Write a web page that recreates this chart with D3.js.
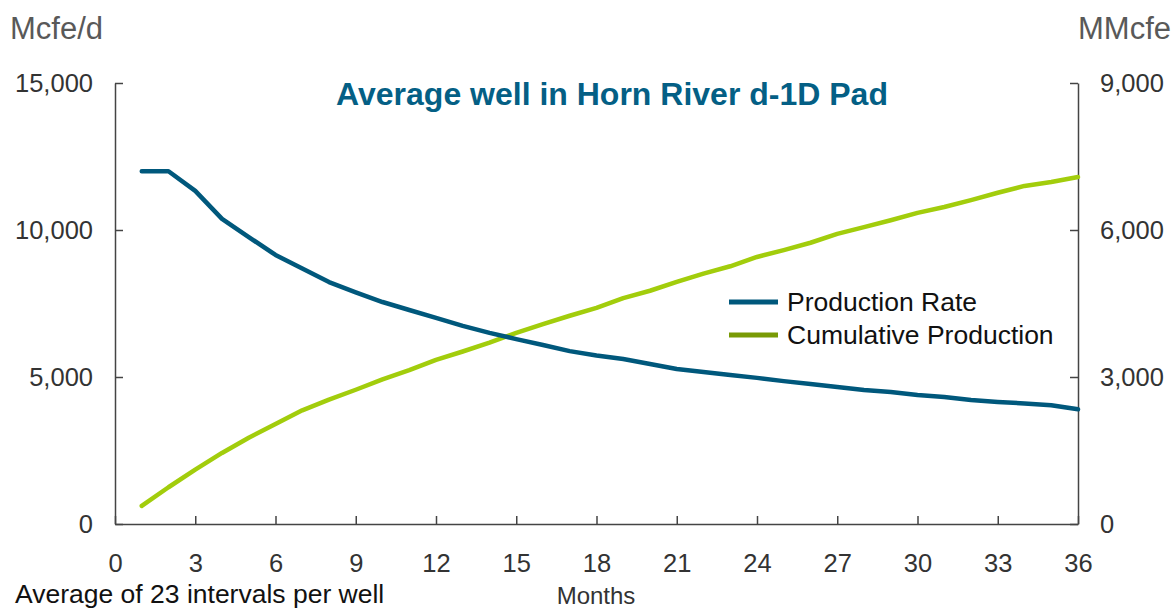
<!DOCTYPE html>
<html>
<head>
<meta charset="utf-8">
<script src="https://cdn.jsdelivr.net/npm/d3@7"></script>
<style>
  body { margin: 0; background: #fff; }
  svg { font-family: "Liberation Sans", Arial, sans-serif; }
</style>
</head>
<body>
<svg id="chart"></svg>
<script>
// Chart dimensions
const width = 1173;
const height = 609;
const margin = { top: 83, right: 95, bottom: 85, left: 115 };

// Data
const months = d3.range(1, 37);
const productionRate = [
  12000, 12000, 11330, 10380, 9760, 9150, 8690, 8230, 7880, 7550,
  7280, 7010, 6740, 6500, 6290, 6090, 5880, 5730, 5610, 5440,
  5270, 5170, 5070, 4970, 4860, 4760, 4660, 4560, 4490, 4390,
  4320, 4220, 4150, 4100, 4040, 3900
];
const cumulativeProduction = [
  370, 750, 1110, 1450, 1760, 2040, 2320, 2540, 2740, 2950,
  3140, 3350, 3520, 3700, 3900, 4080, 4250, 4410, 4610, 4760,
  4940, 5110, 5260, 5450, 5590, 5740, 5920, 6060, 6200, 6350,
  6470, 6610, 6760, 6900, 6980, 7080
];
const xTicks = d3.range(0, 37, 3);
const leftTicks = [0, 5000, 10000, 15000];
const rightTicks = [0, 3000, 6000, 9000];
const seriesNames = ["Production Rate", "Cumulative Production"];

const blue = "#00587c";
const green = "#a2cd0c";
const greenLegend = "#799a05";
const axisColor = "#444";

const svg = d3.select("#chart")
  .attr("width", width)
  .attr("height", height);

// Scales
const x = d3.scaleLinear()
  .domain([0, 36])
  .range([margin.left, width - margin.right]);

const yLeft = d3.scaleLinear()
  .domain([0, 15000])
  .range([height - margin.bottom, margin.top]);

const yRight = d3.scaleLinear()
  .domain([0, 9000])
  .range([height - margin.bottom, margin.top]);

// Axes
const xAxis = d3.axisBottom(x)
  .tickValues(xTicks)
  .tickSize(-8)
  .tickPadding(30)
  .tickSizeOuter(0);

const leftAxis = d3.axisLeft(yLeft)
  .tickValues(leftTicks)
  .tickSize(-8)
  .tickPadding(22)
  .tickSizeOuter(0)
  .tickFormat(d3.format(","));

const rightAxis = d3.axisRight(yRight)
  .tickValues(rightTicks)
  .tickSize(-8)
  .tickPadding(22)
  .tickSizeOuter(0)
  .tickFormat(d3.format(","));

function styleAxis(g) {
  g.select(".domain").attr("stroke", axisColor).attr("stroke-width", 1.5);
  g.selectAll(".tick line").attr("stroke", axisColor).attr("stroke-width", 1.5);
  g.selectAll(".tick text")
    .attr("fill", "#333")
    .style("font-size", "25.5px")
    .style("font-family", "'Liberation Sans', Arial, sans-serif");
}

svg.append("g")
  .attr("transform", `translate(0,${height - margin.bottom})`)
  .call(xAxis)
  .call(styleAxis)
  .selectAll(".tick text").attr("dy", "0.71em");

svg.append("g")
  .attr("transform", `translate(${margin.left},0)`)
  .call(leftAxis)
  .call(styleAxis);

svg.append("g")
  .attr("transform", `translate(${width - margin.right},0)`)
  .call(rightAxis)
  .call(styleAxis);

// Lines
const rateLine = d3.line()
  .x((d, i) => x(months[i]))
  .y(d => yLeft(d));

const cumLine = d3.line()
  .x((d, i) => x(months[i]))
  .y(d => yRight(d));

svg.append("path")
  .datum(cumulativeProduction)
  .attr("fill", "none")
  .attr("stroke", green)
  .attr("stroke-width", 4.5)
  .attr("stroke-linecap", "round")
  .attr("stroke-linejoin", "round")
  .attr("d", cumLine);

svg.append("path")
  .datum(productionRate)
  .attr("fill", "none")
  .attr("stroke", blue)
  .attr("stroke-width", 4.5)
  .attr("stroke-linecap", "round")
  .attr("stroke-linejoin", "round")
  .attr("d", rateLine);

// Title
svg.append("text")
  .attr("x", 612)
  .attr("y", 105)
  .attr("text-anchor", "middle")
  .attr("fill", "#045f85")
  .style("font-size", "32px")
  .style("font-weight", "bold")
  .text("Average well in Horn River d-1D Pad");

// Unit labels
svg.append("text")
  .attr("x", 10)
  .attr("y", 39)
  .attr("fill", "#595959")
  .style("font-size", "31px")
  .text("Mcfe/d");

svg.append("text")
  .attr("x", 1171)
  .attr("y", 39)
  .attr("text-anchor", "end")
  .attr("fill", "#595959")
  .style("font-size", "31px")
  .text("MMcfe");

// Footer texts
svg.append("text")
  .attr("x", 15)
  .attr("y", 603)
  .attr("fill", "#111")
  .style("font-size", "26.5px")
  .text("Average of 23 intervals per well");

svg.append("text")
  .attr("x", 596)
  .attr("y", 604)
  .attr("text-anchor", "middle")
  .attr("fill", "#333")
  .style("font-size", "24px")
  .text("Months");

// Legend
const legendColors = [blue, greenLegend];
const legend = svg.append("g")
  .attr("transform", "translate(729,302)");

seriesNames.forEach((name, i) => {
  const row = legend.append("g")
    .attr("transform", `translate(0,${i * 33})`);
  row.append("line")
    .attr("x1", 0)
    .attr("x2", 49)
    .attr("stroke", legendColors[i])
    .attr("stroke-width", 5);
  row.append("text")
    .attr("x", 58)
    .attr("y", 9)
    .attr("fill", "#111")
    .style("font-size", "26.5px")
    .text(name);
});
</script>
</body>
</html>
